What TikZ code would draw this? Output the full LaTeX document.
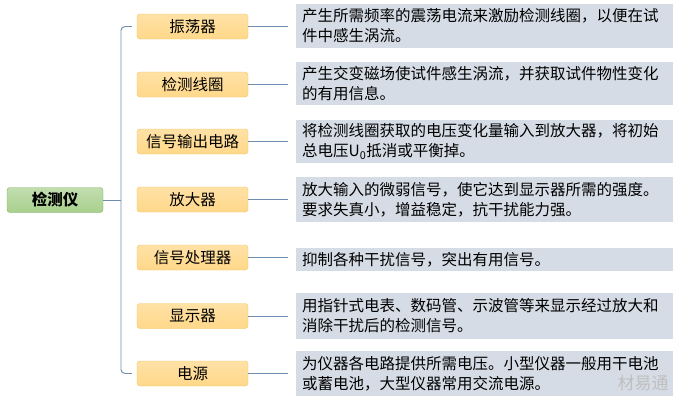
\documentclass[tikz,border=0pt]{standalone}
\usepackage{fontspec}
\setmainfont{Noto Sans CJK SC}
\usepackage{tikz}
\usetikzlibrary{calc, positioning}
\usepackage{xcolor}
\definecolor{rootfill}{HTML}{A8D08D}
\definecolor{rootdraw}{HTML}{7FAF66}
\definecolor{partfill}{HTML}{FFD889}
\definecolor{partdraw}{HTML}{F4C25C}
\definecolor{descfill}{HTML}{D6DCE5}
\definecolor{linkcol}{HTML}{6F8DAE}

\begin{document}
\begin{tikzpicture}[
    x=1pt, y=-1pt,
    root/.style={draw=rootdraw, top color=rootfill!70, bottom color=rootfill,
                 rounded corners=3pt, minimum width=96pt, minimum height=25pt,
                 font=\fontsize{15.5}{20}\selectfont\bfseries},
    part/.style={draw=partdraw, top color=partfill!75, bottom color=partfill,
                 rounded corners=3pt, minimum width=111pt, minimum height=25pt,
                 font=\fontsize{15.5}{20}\selectfont},
    desc/.style={fill=descfill, anchor=west, minimum width=377pt, text width=365pt,
                 inner xsep=6pt, inner ysep=2pt, align=left,
                 font=\fontsize{15.5}{20}\selectfont},
    link/.style={draw=linkcol, line width=0.9pt}
  ]
    \useasboundingbox (0,0) rectangle (691,415);

    \node[root] (det) at (55,200) {检测仪};

    \node[part] (osc) at (192.5,26.5)  {振荡器};
    \node[part] (coil) at (192.5,84.5) {检测线圈};
    \node[part] (out) at (192.5,141.5) {信号输出电路};
    \node[part] (amp) at (192.5,199.5) {放大器};
    \node[part] (proc) at (192.5,257.5) {信号处理器};
    \node[part] (disp) at (192.5,316)  {显示器};
    \node[part] (pwr) at (192.5,373.5) {电源};

    \node[desc, minimum height=44pt] (oscd) at (296,26)
      {产生所需频率的震荡电流来激励检测线圈，以便在试\\件中感生涡流。};
    \node[desc, minimum height=43pt] (coild) at (296,83.5)
      {产生交变磁场使试件感生涡流，并获取试件物性变化\\的有用信息。};
    \node[desc, minimum height=43pt] (outd) at (296,141.5)
      {将检测线圈获取的电压变化量输入到放大器，将初始\\总电压U\textsubscript{0}抵消或平衡掉。};
    \node[desc, minimum height=45pt] (ampd) at (296,199.5)
      {放大输入的微弱信号，使它达到显示器所需的强度。\\要求失真小，增益稳定，抗干扰能力强。};
    \node[desc, minimum height=23pt] (procd) at (296,259.5)
      {抑制各种干扰信号，突出有用信号。};
    \node[desc, minimum height=46pt] (dispd) at (296,316)
      {用指针式电表、数码管、示波管等来显示经过放大和\\消除干扰后的检测信号。};
    \node[desc, minimum height=45pt] (pwrd) at (296,373.5)
      {为仪器各电路提供所需电压。小型仪器一般用干电池\\或蓄电池，大型仪器常用交流电源。};

    % watermark
    \node[text=white!50!gray, font=\fontsize{17}{17}\selectfont] (mark) at (643,383) {材易通};

    % trunk
    \coordinate (trunk) at (121,200);
    \draw[link] (det.east) -- (trunk);
    \draw[link, rounded corners=4pt] ($(osc.west)+(-5,0)$) -| (trunk) |- ($(pwr.west)+(-5,0)$);

    % branches
    \draw[link, shorten >=8pt] (osc.east) -- (osc.east -| oscd.west);
    \draw[link, shorten >=8pt] (coil.east) -- (coil.east -| coild.west);
    \draw[link, shorten >=8pt] (out.east) -- (out.east -| outd.west);
    \draw[link, shorten >=8pt] (amp.east) -- (amp.east -| ampd.west);
    \draw[link, shorten >=8pt] (proc.east) -- (proc.east -| procd.west);
    \draw[link, shorten >=8pt] (disp.east) -- (disp.east -| dispd.west);
    \draw[link, shorten >=8pt] (pwr.east) -- (pwr.east -| pwrd.west);
  \end{tikzpicture}
\end{document}
